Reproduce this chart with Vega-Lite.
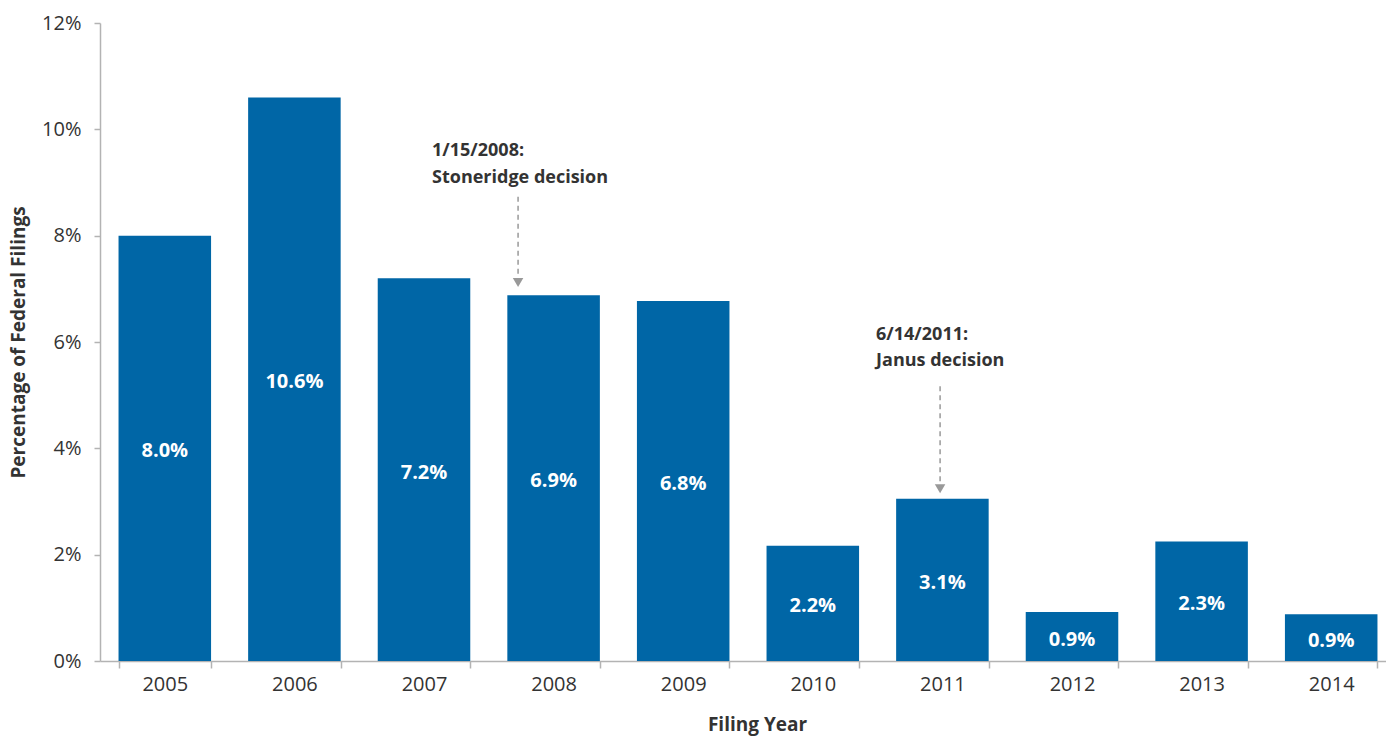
{
  "$schema": "https://vega.github.io/schema/vega-lite/v6.json",
  "width": 1286,
  "height": 638,
  "autosize": {"type": "none"},
  "padding": {"left": 100, "top": 23, "right": 0, "bottom": 77},
  "background": "white",
  "config": {
    "view": {"stroke": null},
    "font": "Open Sans",
    "axis": {
      "domainColor": "#b3b3b3",
      "domainWidth": 1.5,
      "tickColor": "#b3b3b3",
      "tickWidth": 1.5,
      "labelColor": "#333333",
      "labelFont": "Open Sans",
      "labelFontSize": 20,
      "titleFont": "Open Sans",
      "titleFontWeight": "bold",
      "titleColor": "#333333",
      "titleFontSize": 19,
      "grid": false
    }
  },
  "data": {
    "values": [
      {"year": "2005", "pct": 8.0, "label": "8.0%"},
      {"year": "2006", "pct": 10.6, "label": "10.6%"},
      {"year": "2007", "pct": 7.2, "label": "7.2%"},
      {"year": "2008", "pct": 6.88, "label": "6.9%"},
      {"year": "2009", "pct": 6.77, "label": "6.8%"},
      {"year": "2010", "pct": 2.17, "label": "2.2%"},
      {"year": "2011", "pct": 3.05, "label": "3.1%"},
      {"year": "2012", "pct": 0.92, "label": "0.9%"},
      {"year": "2013", "pct": 2.25, "label": "2.3%"},
      {"year": "2014", "pct": 0.88, "label": "0.9%"}
    ]
  },
  "layer": [
    {
      "mark": {"type": "bar", "color": "#0066a6"},
      "encoding": {
        "x": {
          "field": "year",
          "type": "ordinal",
          "title": "Filing Year",
          "scale": {"range": [0, 1296], "paddingInner": 0.286, "paddingOuter": 0.143},
          "axis": {"labelAngle": 0, "tickBand": "extent", "tickSize": 7, "labelPadding": 6, "titlePadding": 21, "titleX": 657}
        },
        "y": {
          "field": "pct",
          "type": "quantitative",
          "title": "Percentage of Federal Filings",
          "scale": {"domain": [0, 12]},
          "axis": {"values": [0, 2, 4, 6, 8, 10, 12], "labelExpr": "datum.value + '%'", "tickSize": 6, "labelPadding": 13, "titlePadding": 13}
        }
      }
    },
    {
      "transform": [{"calculate": "datum.pct / 2", "as": "mid"}],
      "mark": {"type": "text", "color": "white", "fontWeight": "bold", "fontSize": 20, "baseline": "middle", "dy": 3},
      "encoding": {
        "x": {"field": "year", "type": "ordinal"},
        "y": {"field": "mid", "type": "quantitative"},
        "text": {"field": "label"}
      }
    },
    {
      "data": {"values": [{"year": "2008", "top": 8.73, "bottom": 7.24, "head": 7.12}]},
      "layer": [
        {
          "mark": {"type": "rule", "color": "#999999", "strokeWidth": 1.5, "strokeDash": [5, 4]},
          "encoding": {
            "x": {"field": "year", "type": "ordinal", "bandPosition": 0.116},
            "y": {"field": "top", "type": "quantitative"},
            "y2": {"field": "bottom"}
          }
        },
        {
          "mark": {"type": "point", "shape": "triangle-down", "filled": true, "color": "#999999", "size": 110, "opacity": 1},
          "encoding": {
            "x": {"field": "year", "type": "ordinal", "bandPosition": 0.116},
            "y": {"field": "head", "type": "quantitative"}
          }
        }
      ]
    },
    {
      "data": {"values": [{"year": "2011", "top": 5.17, "bottom": 3.36, "head": 3.24}]},
      "layer": [
        {
          "mark": {"type": "rule", "color": "#999999", "strokeWidth": 1.5, "strokeDash": [5, 4]},
          "encoding": {
            "x": {"field": "year", "type": "ordinal", "bandPosition": 0.475},
            "y": {"field": "top", "type": "quantitative"},
            "y2": {"field": "bottom"}
          }
        },
        {
          "mark": {"type": "point", "shape": "triangle-down", "filled": true, "color": "#999999", "size": 110, "opacity": 1},
          "encoding": {
            "x": {"field": "year", "type": "ordinal", "bandPosition": 0.475},
            "y": {"field": "head", "type": "quantitative"}
          }
        }
      ]
    },
    {
      "data": {"values": [
        {"year": "2008", "y": 9.59, "text": "1/15/2008:"},
        {"year": "2008", "y": 9.08, "text": "Stoneridge decision"}
      ]},
      "mark": {"type": "text", "align": "left", "baseline": "middle", "fontWeight": "bold", "fontSize": 18, "color": "#333333"},
      "encoding": {
        "x": {"field": "year", "type": "ordinal", "bandPosition": -0.814},
        "y": {"field": "y", "type": "quantitative"},
        "text": {"field": "text"}
      }
    },
    {
      "data": {"values": [
        {"year": "2011", "y": 6.13, "text": "6/14/2011:"},
        {"year": "2011", "y": 5.64, "text": "Janus decision"}
      ]},
      "mark": {"type": "text", "align": "left", "baseline": "middle", "fontWeight": "bold", "fontSize": 18, "color": "#333333"},
      "encoding": {
        "x": {"field": "year", "type": "ordinal", "bandPosition": -0.217},
        "y": {"field": "y", "type": "quantitative"},
        "text": {"field": "text"}
      }
    }
  ]
}
